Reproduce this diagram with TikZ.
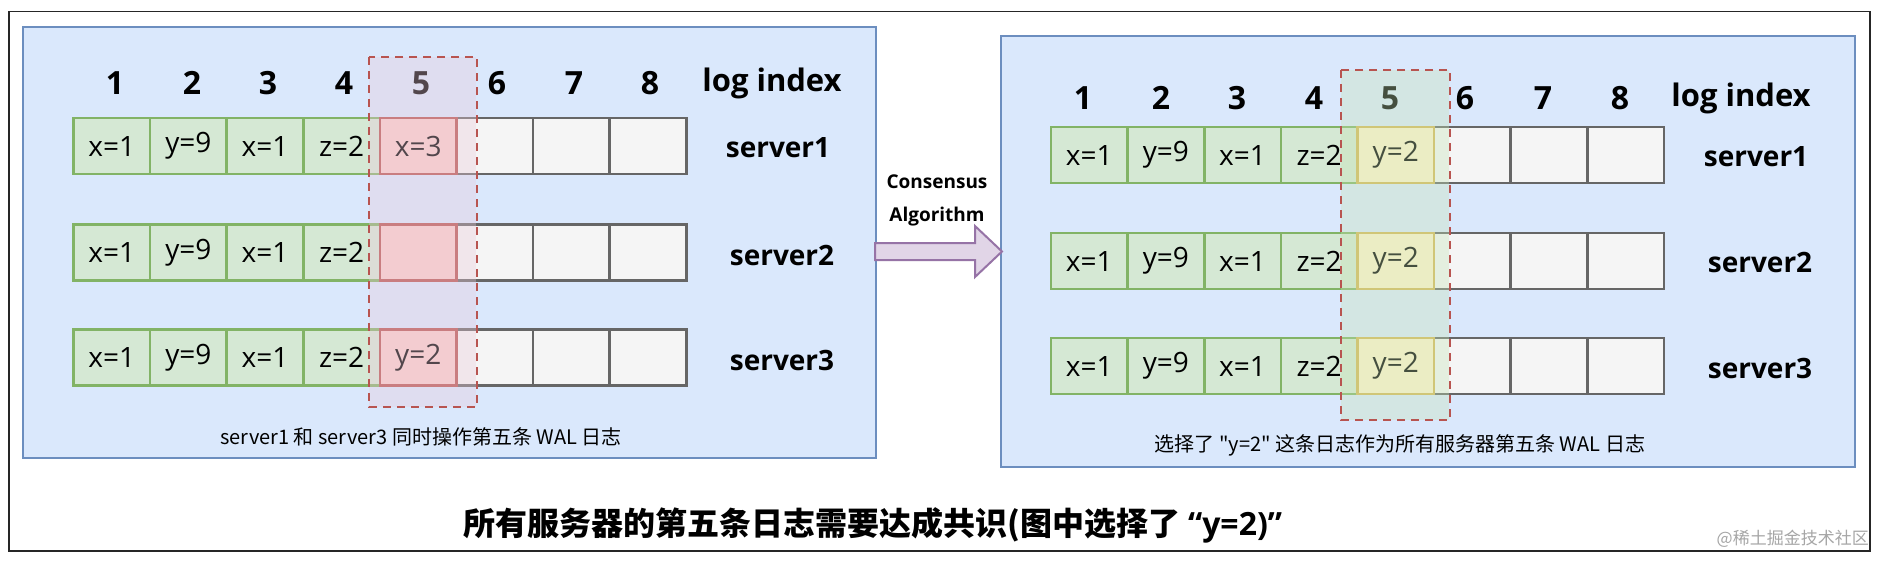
\documentclass[tikz,border=0pt]{standalone}
\usepackage{fontspec}
\setmainfont{Open Sans}
\newfontfamily\cjk{Noto Sans CJK SC}
\definecolor{panelfill}{HTML}{DAE8FC}
\definecolor{paneldraw}{HTML}{6C8EBF}
\definecolor{gfill}{HTML}{D5E8D4}
\definecolor{gdraw}{HTML}{82B366}
\definecolor{efill}{HTML}{F5F5F5}
\definecolor{edraw}{HTML}{666666}
\definecolor{rfill}{HTML}{F8CECC}
\definecolor{rdraw}{HTML}{B85450}
\definecolor{yfill}{HTML}{FFF2CC}
\definecolor{ydraw}{HTML}{D6B656}
\definecolor{pfill}{HTML}{E1D5E7}
\definecolor{pdraw}{HTML}{9673A6}
\definecolor{ovl}{RGB}{235,203,218}
\definecolor{ovr}{RGB}{198,229,183}
\begin{document}
\begin{tikzpicture}[x=1pt,y=-1pt,
  panel/.style={fill=panelfill,draw=paneldraw,line width=1.6pt},
  cellbase/.style={minimum width=76.6pt,minimum height=56pt,inner sep=0pt,line width=2.6pt,
    font=\fontsize{28}{30}\selectfont},
  gcell/.style={cellbase,fill=gfill,draw=gdraw},
  ecell/.style={cellbase,fill=efill,draw=edraw},
  rcell/.style={cellbase,fill=rfill,draw=rdraw},
  ycell/.style={cellbase,fill=yfill,draw=ydraw},
  idx/.style={font=\fontsize{32}{34}\selectfont\bfseries,inner sep=0pt},
  srv/.style={font=\fontsize{28}{30}\selectfont\bfseries,inner sep=0pt},
  caption/.style={font=\cjk\fontsize{20}{22}\selectfont,inner sep=0pt},
  selbox/.style={draw=rdraw,line width=2.8pt,dash pattern=on 8pt off 6pt},
  bigarrow/.style={fill=pfill,draw=pdraw,line width=2pt,line join=miter},
  arrowtext/.style={font=\fontsize{19}{21}\selectfont\bfseries,inner sep=0pt}
]
\useasboundingbox (0,0) rectangle (1888,566);
\fill[white] (0,0) rectangle (1888,566);
% outer frame
\draw[black!85,line width=1.8pt] (9,11.5) rectangle (1870,551);
% panels
\node[panel,anchor=north west,minimum width=853pt,minimum height=431pt,inner sep=0pt] (panelL) at (22,26) {};
\node[panel,anchor=north west,minimum width=854pt,minimum height=431pt,inner sep=0pt] (panelR) at (1000,35) {};

% ---------- left panel ----------
\foreach \r/\y in {1/146,2/252.5,3/357.5}{
  \foreach \c in {6,7,8}{
    \node[ecell] (L\r c\c) at ({73.5+76.6*(\c-0.5)},\y) {};
  }
  \foreach \c/\t in {1/x=1,2/y=9,3/x=1,4/z=2}{
    \node[gcell] (L\r c\c) at ({73.5+76.6*(\c-0.5)},\y) {\t};
  }
}
\node[rcell] (L1c5) at ({73.5+76.6*4.5},146) {x=3};
\node[rcell] (L2c5) at ({73.5+76.6*4.5},252.5) {};
\node[rcell] (L3c5) at ({73.5+76.6*4.5},357.5) {y=2};
\foreach \n/\x in {1/115,2/192,3/268,4/344,5/421,6/497,7/574,8/650}{
  \node[idx] (Li\n) at (\x,83) {\n};
}
\node[idx,font=\fontsize{31}{34}\selectfont\bfseries] (Llog) at (772,83) {log index};
\node[srv] (Ls1) at (778,148) {server1};
\node[srv] (Ls2) at (782,255) {server2};
\node[srv] (Ls3) at (782,360) {server3};
\fill[ovl,opacity=0.35] (369,57) rectangle (476,407);
\draw[selbox] (369,57) rectangle (477,407);
\node[caption] (capL) at (421,437) {server1 和 server3 同时操作第五条 WAL 日志};

% ---------- arrow ----------
\draw[bigarrow] (875,243) -- (975,243) -- (975,226) -- (1002,251.5) -- (975,277) -- (975,260) -- (875,260) -- cycle;
\node[arrowtext] (cons) at (937,182) {Consensus};
\node[arrowtext] (algo) at (937,217) {Algorithm};

% ---------- right panel ----------
\foreach \r/\y in {1/155,2/261,3/366}{
  \foreach \c in {6,7,8}{
    \node[ecell] (R\r c\c) at ({1051+76.6*(\c-0.5)},\y) {};
  }
  \foreach \c/\t in {1/x=1,2/y=9,3/x=1,4/z=2}{
    \node[gcell] (R\r c\c) at ({1051+76.6*(\c-0.5)},\y) {\t};
  }
  \node[ycell] (R\r c5) at ({1051+76.6*4.5},\y) {y=2};
}
\foreach \n/\x in {1/1083,2/1161,3/1237,4/1314,5/1390,6/1465,7/1543,8/1620}{
  \node[idx] (Ri\n) at (\x,98) {\n};
}
\node[idx,font=\fontsize{31}{34}\selectfont\bfseries] (Rlog) at (1741,98) {log index};
\node[srv] (Rs1) at (1756,157) {server1};
\node[srv] (Rs2) at (1760,262) {server2};
\node[srv] (Rs3) at (1760,368) {server3};
\fill[ovr,opacity=0.35] (1341,70) rectangle (1449,420);
\draw[selbox] (1341,70) rectangle (1450,420);
\node[caption] (capR) at (1400,445) {选择了 "y=2" 这条日志作为所有服务器第五条 WAL 日志};

% ---------- title ----------
\node[font=\cjk\fontsize{32}{34}\selectfont\bfseries,inner sep=0pt] (title) at (873,525) {所有服务器的第五条日志需要达成共识(图中选择了 {\rmfamily\bfseries “y=2)”}};
\node[font=\cjk\fontsize{17}{19}\selectfont,text=black!35,anchor=east,inner sep=0pt] (wm) at (1869,539) {@稀土掘金技术社区};
\end{tikzpicture}
\end{document}
